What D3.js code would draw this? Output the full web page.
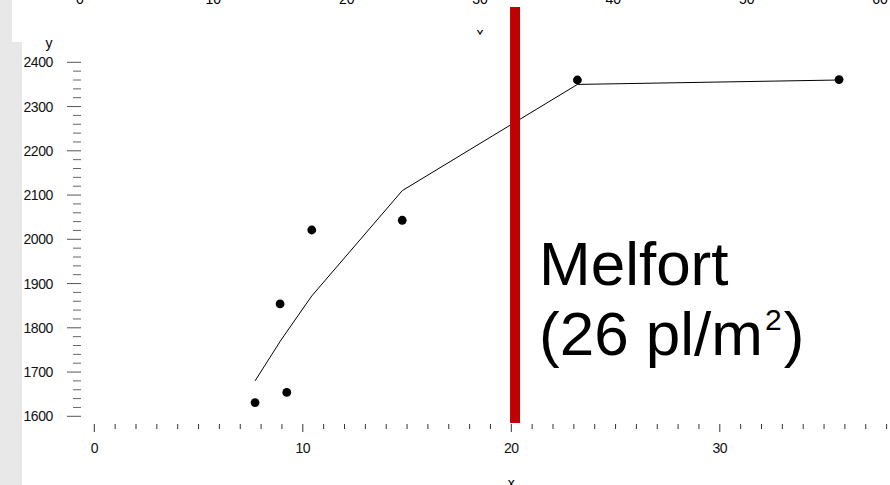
<!DOCTYPE html>
<html><head><meta charset="utf-8">
<script src="https://cdn.jsdelivr.net/npm/d3@7"></script>
<style>html,body{margin:0;padding:0;background:#fff;overflow:hidden}</style>
</head><body>
<svg id="c" width="890" height="485"></svg>
<script>
// data
const pointX = [7.71, 8.91, 9.23, 10.43, 14.77, 23.17, 35.72];
const pointY = [1631, 1854, 1654, 2021, 2043, 2360, 2361];
const lineX  = [7.71, 8.91, 9.23, 10.43, 14.77, 23.17, 35.72];
const lineY  = [1680, 1769, 1791, 1872, 2110, 2350, 2360];
const markerX = 20.18;
const xMajorTicks = [0, 10, 20, 30];
const xMinorTicks = d3.range(0, 39);
const yMajorTicks = [1600, 1700, 1800, 1900, 2000, 2100, 2200, 2300, 2400];
const yMinorTicks = d3.range(1600, 2401, 20);
const topTicks = [0, 10, 20, 30, 40, 50, 60];
const label1 = "Melfort";
const label2 = "(26 pl/m";
const label2sup = "2";
const label2end = ")";

const svg = d3.select("#c");
const font = "'Liberation Sans', Arial, Helvetica, sans-serif";

// background pieces
svg.append("rect").attr("x",0).attr("y",0).attr("width",12).attr("height",485).attr("fill","#e8e8e8");
svg.append("rect").attr("x",0).attr("y",42).attr("width",22).attr("height",443).attr("fill","#e8e8e8");

const x = d3.scaleLinear().domain([0, 40]).range([94.3, 94.3 + 40*20.85]);
const y = d3.scaleLinear().domain([1600, 2400]).range([416.3, 62.3]);
const xTop = d3.scaleLinear().domain([0, 60]).range([80, 880]);

// cut-off top axis labels from a chart above
const gTop = svg.append("g");
gTop.selectAll("text").data(topTicks).join("text")
  .attr("x", d => xTop(d)).attr("y", 4)
  .attr("text-anchor","middle").attr("font-family",font).attr("font-size",14).attr("fill","#000")
  .text(d => d);
svg.append("clipPath").attr("id","cx").append("rect").attr("x",470).attr("y",20).attr("width",25).attr("height",14.5);
svg.append("text").attr("x", xTop(30)).attr("y", 38).attr("text-anchor","middle")
  .attr("font-family",font).attr("font-size",14).attr("clip-path","url(#cx)").text("x");

// y axis ticks
const gy = svg.append("g");
gy.selectAll("line.mn").data(yMinorTicks.filter(d => !yMajorTicks.includes(d))).join("line")
  .attr("class","mn").attr("x1",73).attr("x2",81).attr("y1",d=>y(d)).attr("y2",d=>y(d))
  .attr("stroke","#666").attr("stroke-width",1);
gy.selectAll("line.mj").data(yMajorTicks).join("line")
  .attr("class","mj").attr("x1",67).attr("x2",81).attr("y1",d=>y(d)).attr("y2",d=>y(d))
  .attr("stroke","#555").attr("stroke-width",1);
gy.selectAll("text").data(yMajorTicks).join("text")
  .attr("x",53).attr("y",d=>y(d)).attr("dy","0.36em").attr("text-anchor","end")
  .attr("font-family",font).attr("font-size",14).attr("letter-spacing",-0.4).attr("fill","#111")
  .text(d=>d);
svg.append("text").attr("x",49).attr("y",48).attr("text-anchor","middle")
  .attr("font-family",font).attr("font-size",14).text("y");

// x axis ticks
const gx = svg.append("g");
gx.selectAll("line.mn").data(xMinorTicks.filter(d => !xMajorTicks.includes(d))).join("line")
  .attr("class","mn").attr("x1",d=>x(d)).attr("x2",d=>x(d)).attr("y1",424).attr("y2",429)
  .attr("stroke","#333").attr("stroke-width",1);
gx.selectAll("line.mj").data(xMajorTicks).join("line")
  .attr("class","mj").attr("x1",d=>x(d)).attr("x2",d=>x(d)).attr("y1",424).attr("y2",432)
  .attr("stroke","#333").attr("stroke-width",1);
gx.selectAll("text").data(xMajorTicks).join("text")
  .attr("x",d=>x(d)).attr("y",448).attr("dy","0.36em").attr("text-anchor","middle")
  .attr("font-family",font).attr("font-size",14).attr("letter-spacing",-0.6).attr("fill","#111")
  .text(d=>d);
svg.append("text").attr("x",x(20)).attr("y",487.5).attr("text-anchor","middle")
  .attr("font-family",font).attr("font-size",14).text("x");

// fitted line
const lineData = lineX.map((d,i)=>[d,lineY[i]]);
svg.append("path").datum(lineData)
  .attr("d", d3.line().x(d=>x(d[0])).y(d=>y(d[1])))
  .attr("fill","none").attr("stroke","#000").attr("stroke-width",1);

// points
svg.selectAll("circle.pt").data(pointX.map((d,i)=>[d,pointY[i]])).join("circle")
  .attr("class","pt").attr("cx",d=>x(d[0])).attr("cy",d=>y(d[1])).attr("r",4.4).attr("fill","#000");

// red marker bar
svg.append("line").attr("x1",x(markerX)).attr("x2",x(markerX)).attr("y1",7).attr("y2",423)
  .attr("stroke","#c00000").attr("stroke-width",10);

// label
const t = svg.append("g").attr("font-family",font).attr("font-size",62).attr("fill","#000");
t.append("text").attr("x",539).attr("y",285).text(label1);
const t2 = t.append("text").attr("x",539).attr("y",355);
t2.append("tspan").text(label2);
t2.append("tspan").attr("font-size",30).attr("dx",2).attr("dy",-25).text(label2sup);
t2.append("tspan").attr("dx",2).attr("dy",25).text(label2end);
</script>
</body></html>
